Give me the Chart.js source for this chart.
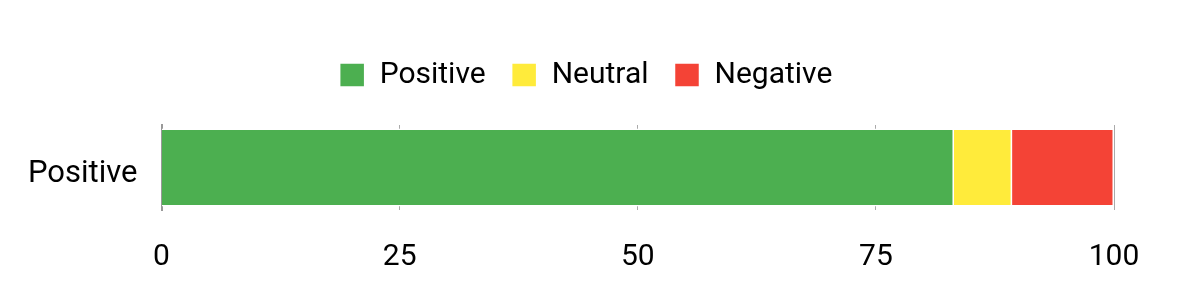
<!DOCTYPE html>
<html>
<head>
<meta charset="utf-8">
<script src="https://cdn.jsdelivr.net/npm/chart.js@4"></script>
<style>
  html, body { margin: 0; padding: 0; background: #fff; }
  #wrap { width: 1200px; height: 300px; }
</style>
</head>
<body>
<div id="wrap"><canvas id="chart"></canvas></div>
<script>
const categories = ["Positive"];
const positiveValues = [83.2];
const neutralValues = [6.1];
const negativeValues = [10.7];
const tickValues = [0, 25, 50, 75, 100];

Chart.defaults.font.family = "Roboto";
Chart.defaults.font.size = 30;
Chart.defaults.color = "#000";

// extra space under the legend, and nudge it right a bit
const legendTweak = {
  id: "legendTweak",
  beforeInit(chart) {
    const fit = chart.legend.fit;
    chart.legend.fit = function () {
      fit.call(this);
      this.height += 25;
    };
  },
  afterLayout(chart) {
    chart.legend.left += 23;
    chart.legend.right += 23;
  },
};

new Chart(document.getElementById("chart"), {
  type: "bar",
  data: {
    labels: categories,
    datasets: [
      { label: "Positive", data: positiveValues, backgroundColor: "#4caf50", borderColor: "#fff", borderWidth: 1.5 },
      { label: "Neutral", data: neutralValues, backgroundColor: "#ffeb3b", borderColor: "#fff", borderWidth: 1.5 },
      { label: "Negative", data: negativeValues, backgroundColor: "#f44336", borderColor: "#fff", borderWidth: 1.5 },
    ],
  },
  options: {
    indexAxis: "y",
    responsive: true,
    maintainAspectRatio: false,
    animation: false,
    layout: { padding: { top: 34, left: 12, right: 86, bottom: 0 } },
    plugins: {
      legend: {
        position: "top",
        labels: { boxWidth: 25, boxHeight: 24, padding: 26, font: { size: 30 } },
      },
      tooltip: { enabled: false },
    },
    datasets: { bar: { barPercentage: 0.92, categoryPercentage: 1 } },
    scales: {
      x: {
        stacked: true,
        min: 0,
        max: 100,
        afterBuildTicks(axis) {
          axis.ticks = tickValues.map((v) => ({ value: v }));
        },
        afterFit(axis) {
          axis.height = 90;
        },
        grid: { color: "#aaa", drawTicks: false },
        border: { display: false },
        ticks: { padding: 29 },
      },
      y: {
        stacked: true,
        grid: { display: false },
        border: { color: "#999", width: 2 },
        ticks: { padding: 16, labelOffset: 7, font: { size: 31 } },
      },
    },
  },
  plugins: [legendTweak],
});
</script>
</body>
</html>
